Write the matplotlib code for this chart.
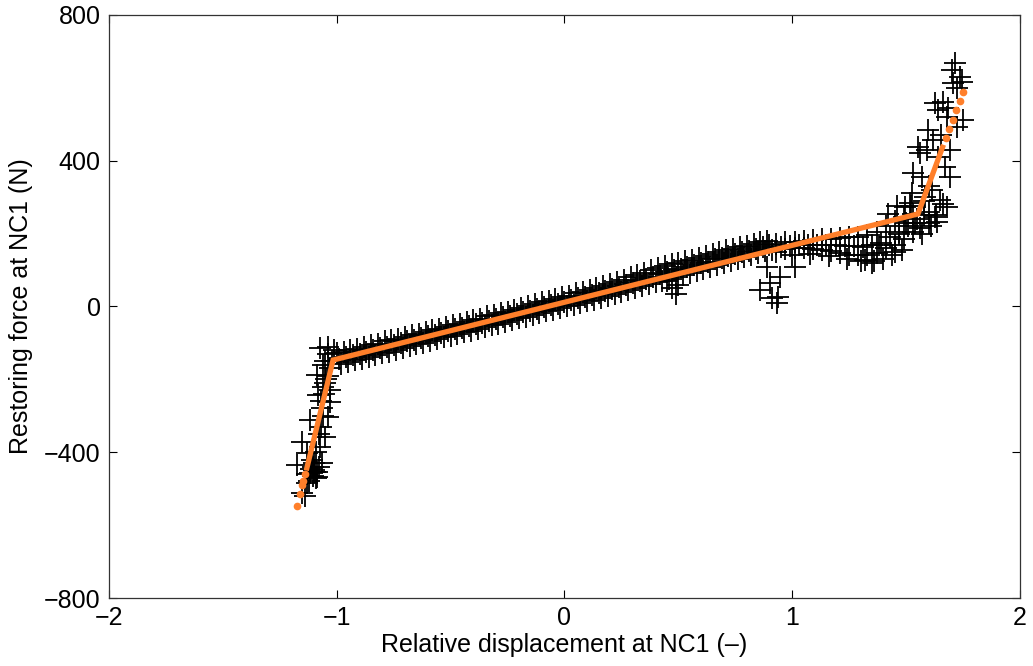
import matplotlib
matplotlib.use('Agg')
from matplotlib import pyplot as plt

plt.rcParams['font.family'] = ['Liberation Sans', 'DejaVu Sans']

band_x = [-1.00, -0.97, -0.94, -0.91, -0.88, -0.85, -0.82, -0.79, -0.76, -0.73,
          -0.70, -0.67, -0.64, -0.61, -0.58, -0.55, -0.52, -0.49, -0.46, -0.43,
          -0.40, -0.37, -0.34, -0.31, -0.28, -0.25, -0.22, -0.19, -0.16, -0.13,
          -0.10, -0.07, -0.04, -0.01, 0.02, 0.05, 0.08, 0.11, 0.14, 0.17,
          0.20, 0.23, 0.26, 0.29, 0.32, 0.35, 0.38, 0.41, 0.44, 0.47,
          0.50, 0.53, 0.56, 0.59, 0.62, 0.65, 0.68, 0.71, 0.74, 0.77,
          0.80, 0.83, 0.86, 0.89]
band_hi = [-128, -124, -120, -117, -110, -106, -102, -96, -93, -88,
           -84, -78, -75, -70, -64, -61, -57, -52, -47, -42,
           -38, -34, -27, -22, -18, -14, -9, -3, 1, 6,
           11, 15, 20, 25, 30, 36, 40, 45, 50, 56,
           62, 68, 74, 80, 86, 92, 99, 105, 112, 117,
           119, 124, 128, 133, 138, 144, 149, 154, 158, 163,
           167, 172, 176, 180]

band_mid_x = [-0.99, -0.96, -0.93, -0.90, -0.87, -0.84, -0.81, -0.78, -0.75, -0.72,
              -0.69, -0.66, -0.63, -0.60, -0.57, -0.54, -0.51, -0.48, -0.45, -0.42,
              -0.39, -0.36, -0.33, -0.30, -0.27, -0.24, -0.21, -0.18, -0.15, -0.12,
              -0.09, -0.06, -0.03, 0.00, 0.03, 0.06, 0.09, 0.12, 0.15, 0.18,
              0.21, 0.24, 0.27, 0.30, 0.33, 0.36, 0.39, 0.42, 0.45, 0.48,
              0.51, 0.54, 0.57, 0.60, 0.63, 0.66, 0.69, 0.72, 0.75, 0.78,
              0.81, 0.84, 0.87, 0.90]
band_mid = [-143, -138, -134, -130, -124, -120, -115, -110, -106, -101,
            -96, -91, -87, -82, -77, -73, -68, -63, -59, -54,
            -49, -45, -39, -34, -30, -25, -20, -15, -11, -6,
            -1, 3, 8, 13, 17, 23, 27, 32, 37, 42,
            48, 53, 59, 65, 70, 76, 82, 88, 94, 99,
            103, 108, 113, 118, 123, 129, 134, 139, 144, 149,
            153, 159, 163, 168]

band_lo_x = [-0.98, -0.95, -0.92, -0.89, -0.86, -0.83, -0.80, -0.77, -0.74, -0.71,
             -0.68, -0.65, -0.62, -0.59, -0.56, -0.53, -0.50, -0.47, -0.44, -0.41,
             -0.38, -0.35, -0.32, -0.29, -0.26, -0.23, -0.20, -0.17, -0.14, -0.11,
             -0.08, -0.05, -0.02, 0.01, 0.04, 0.07, 0.10, 0.13, 0.16, 0.19,
             0.22, 0.25, 0.28, 0.31, 0.34, 0.37, 0.40, 0.43, 0.46, 0.49,
             0.52, 0.55, 0.58, 0.61, 0.64, 0.67, 0.70, 0.73, 0.76, 0.79,
             0.82, 0.85, 0.88, 0.91]
band_lo = [-158, -153, -148, -143, -139, -134, -129, -124, -119, -114,
           -109, -104, -99, -95, -90, -85, -80, -75, -71, -66,
           -61, -56, -51, -47, -42, -37, -32, -28, -23, -18,
           -13, -9, -4, 1, 5, 10, 15, 19, 24, 29,
           34, 39, 45, 50, 55, 61, 66, 71, 76, 82,
           87, 93, 98, 103, 108, 114, 119, 124, 130, 135,
           140, 146, 151, 156]

# right band (after the upper cloud)
right_x = [0.93, 0.97, 1.01, 1.05, 1.09, 1.13, 1.17, 1.21, 1.25, 1.29,
           1.33, 1.37, 1.41, 1.45, 1.49, 1.53]
right_hi = [172, 176, 178, 180, 182, 184, 186, 188, 190, 192,
            196, 205, 220, 235, 245, 255]
right_lo = [150, 158, 160, 160, 158, 155, 152, 148, 142, 140,
            142, 148, 160, 170, 185, 205]
right_mid_x = [0.95, 0.99, 1.03, 1.07, 1.11, 1.15, 1.19, 1.23, 1.27, 1.31,
               1.35, 1.39, 1.43, 1.47, 1.51, 1.00, 1.08, 1.16, 1.24, 1.32,
               1.36, 1.44, 1.48]
right_mid = [162, 166, 170, 170, 168, 168, 170, 166, 165, 162,
             168, 175, 190, 205, 220, 140, 145, 138, 130, 128,
             125, 140, 155]

# steep branches and scattered outliers
extra_x = [-1.074, -1.038, -1.087, -1.060, -1.082, -1.029, -1.065, -1.117, -1.038, -1.051,
           -1.153, -1.074, -1.131, -1.175, -1.104, -1.065, -1.117, -1.153, -1.131, -1.087,
           -1.10, -1.09, -1.12, -1.11, -1.08, -1.09, -1.13, -1.14,
           -1.10, -1.095, -1.105, -1.085, -1.115, -1.07, -1.06, -1.08, -1.045, -1.055,
           -1.04, -1.02, -1.03, -1.05, -1.01, -1.06, -1.04, -1.05, -1.03, -1.07,
           0.47, 0.49, 0.50, 0.45,
           0.889, 0.946, 0.902, 1.012, 0.911, 0.937, 0.933, 0.858,
           1.30, 1.35, 1.40, 1.45, 1.38, 1.47, 1.50, 1.42, 1.52, 1.46, 1.55, 1.58, 1.60, 1.57,
           1.60, 1.63, 1.66, 1.58, 1.61,
           1.715, 1.737, 1.706, 1.745, 1.627, 1.662, 1.640, 1.684, 1.750, 1.723,
           1.596, 1.618, 1.552, 1.592, 1.561, 1.693, 1.530, 1.570, 1.671, 1.693,
           1.614, 1.649, 1.679, 1.627, 1.636, 1.495, 1.526, 1.517,
           1.700, 1.725, 1.680, 1.655, 1.640, 1.600, 1.585, 1.540, 1.560]
extra_y = [-114, -111, -188, -221, -243, -262, -279, -312, -303, -358,
           -372, -386, -402, -435, -441, -430, -457, -512, -484, -468,
           -450, -470, -480, -420, -440, -400, -460, -520,
           -430, -455, -465, -455, -445, -330, -300, -350, -200, -240,
           -130, -150, -170, -150, -120, -160, -190, -210, -230, -260,
           50, 35, 60, 70,
           108, 81, 65, 108, 23, 26, 10, 45,
           125, 118, 130, 150, 170, 200, 230, 255, 275, 275, 240, 250, 230, 200,
           260, 250, 280, 290, 220,
           668, 630, 613, 616, 558, 561, 539, 545, 512, 493,
           484, 457, 438, 429, 421, 429, 366, 355, 383, 355,
           320, 292, 273, 246, 232, 273, 311, 284,
           650, 600, 520, 470, 410, 330, 300, 230, 215]

# piecewise linear fit
fit_x = [-1.131, -1.016, 1.552, 1.660]
fit_y = [-443, -147, 254, 437]
fit_dot_x = [-1.139, -1.148, -1.153, -1.161, -1.175, 1.675, 1.690, 1.705, 1.720, 1.735, 1.750]
fit_dot_y = [-460, -479, -490, -515, -547, 462, 487, 513, 538, 563, 589]

x_ticks = [-2, -1, 0, 1, 2]
y_ticks = [-800, -400, 0, 400, 800]

fig = plt.figure(figsize=(10.33, 6.66), dpi=100)
ax = fig.add_axes([0.1055, 0.1021, 0.8819, 0.8754])

mk = dict(linestyle='none', marker='+', color='k', markersize=16, markeredgewidth=1.3)
ax.plot(band_x, band_hi, **mk)
ax.plot(band_mid_x, band_mid, **mk)
ax.plot(band_lo_x, band_lo, **mk)
ax.plot(right_x, right_hi, **mk)
ax.plot(right_x, right_lo, **mk)
ax.plot(right_mid_x, right_mid, **mk)
ax.plot(extra_x, extra_y, **mk)

orange = '#ff7f2a'
ax.plot(fit_x, fit_y, color=orange, linewidth=3.8, solid_joinstyle='miter')
ax.plot(fit_dot_x, fit_dot_y, linestyle='none', marker='o', color=orange, markersize=4.5)

ax.set_xlim(-2, 2)
ax.set_ylim(-800, 800)
ax.set_xticks(x_ticks)
ax.set_yticks(y_ticks)
ax.tick_params(direction='in', length=6, width=0.8, labelsize=18, colors='k',
               top=True, right=True, pad=6)
for s in ax.spines.values():
    s.set_linewidth(0.9)
    s.set_color('#333333')
ax.set_xlabel('Relative displacement at NC1 (\u2013)', fontsize=18, labelpad=2)
ax.set_ylabel('Restoring force at NC1 (N)', fontsize=18, labelpad=8)

plt.savefig('out.png', dpi=100)
